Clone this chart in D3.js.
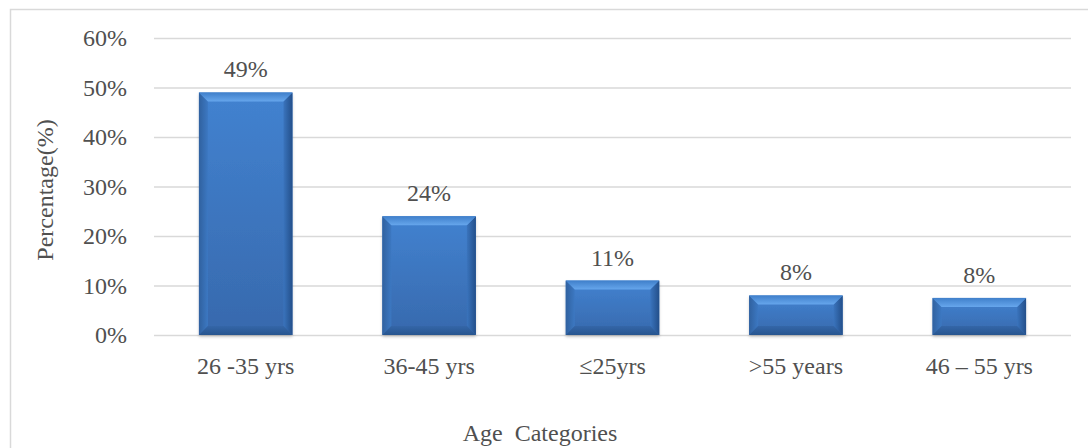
<!DOCTYPE html>
<html>
<head>
<meta charset="utf-8">
<script src="https://cdn.jsdelivr.net/npm/d3@7"></script>
<style>
  html, body { margin: 0; padding: 0; background: #fff; }
  svg text { font-family: "Liberation Serif", "Times New Roman", serif; fill: #505050; }
</style>
</head>
<body>
<svg id="chart" width="1088" height="448"></svg>
<script>
// Age distribution of respondents
const categories = ["26 -35 yrs", "36-45 yrs", "\u226425yrs", ">55 years", "46 \u2013 55 yrs"];
const values = [49, 24, 11, 8, 7.5];
const valueLabels = ["49%", "24%", "11%", "8%", "8%"];
const yTicks = [0, 10, 20, 30, 40, 50, 60];

const svg = d3.select("#chart");
const W = 1088, H = 448;
const plot = { left: 154, right: 1071, top: 38, bottom: 335 };
const FS = "24px";

// chart frame
svg.append("rect")
  .attr("x", 10.5).attr("y", 9.5)
  .attr("width", W + 20).attr("height", H + 20)
  .attr("fill", "none").attr("stroke", "#d9d9d9").attr("stroke-width", 1.5);

const x = d3.scaleBand().domain(categories).range([plot.left, plot.right]).paddingInner(0.49).paddingOuter(0.245);
const y = d3.scaleLinear().domain([0, 60]).range([plot.bottom, plot.top]);

// gradients for the bevelled bars
const defs = svg.append("defs");
const body = defs.append("linearGradient").attr("id", "barBody").attr("x1", 0).attr("y1", 0).attr("x2", 0).attr("y2", 1);
body.append("stop").attr("offset", "0%").attr("stop-color", "#4282d0");
body.append("stop").attr("offset", "100%").attr("stop-color", "#3769ad");
const topG = defs.append("linearGradient").attr("id", "bevTop").attr("x1", 0).attr("y1", 0).attr("x2", 0).attr("y2", 1);
topG.append("stop").attr("offset", "0%").attr("stop-color", "#3f7fca");
topG.append("stop").attr("offset", "100%").attr("stop-color", "#66a6ec");
const leftG = defs.append("linearGradient").attr("id", "bevLeft").attr("x1", 0).attr("y1", 0).attr("x2", 1).attr("y2", 0);
leftG.append("stop").attr("offset", "0%").attr("stop-color", "#30619f");
leftG.append("stop").attr("offset", "100%").attr("stop-color", "#3c78c2");
const rightG = defs.append("linearGradient").attr("id", "bevRight").attr("x1", 1).attr("y1", 0).attr("x2", 0).attr("y2", 0);
rightG.append("stop").attr("offset", "0%").attr("stop-color", "#234f8a");
rightG.append("stop").attr("offset", "100%").attr("stop-color", "#3a74bd");
const botG = defs.append("linearGradient").attr("id", "bevBot").attr("x1", 0).attr("y1", 1).attr("x2", 0).attr("y2", 0);
botG.append("stop").attr("offset", "0%").attr("stop-color", "#27558f");
botG.append("stop").attr("offset", "100%").attr("stop-color", "#3466a8");
const shadow = defs.append("filter").attr("id", "barShadow").attr("x", "-10%").attr("y", "-10%").attr("width", "120%").attr("height", "130%");
shadow.append("feDropShadow").attr("dx", 0).attr("dy", 2).attr("stdDeviation", 1.5).attr("flood-color", "#000").attr("flood-opacity", 0.2);

// gridlines and y-axis labels
const yAxis = d3.axisLeft(y).tickValues(yTicks).tickFormat(d => d + "%").tickSize(-(plot.right - plot.left)).tickPadding(27);
const gy = svg.append("g").attr("transform", `translate(${plot.left},0)`).call(yAxis);
gy.select(".domain").remove();
gy.selectAll(".tick line").attr("stroke", "#d9d9d9").attr("stroke-width", 1.5);
gy.selectAll(".tick text").style("font-size", FS).attr("fill", "#505050");

// bars
const bev = 9;
const bars = svg.append("g").selectAll("g").data(categories).join("g");
bars.each(function(c, i) {
  const g = d3.select(this);
  const x0 = x(c), bw = x.bandwidth();
  const y0 = y(values[i]), y1 = y(0);
  const h = y1 - y0;
  const b = Math.min(bev, h / 2.5);
  g.append("rect").attr("x", x0).attr("y", y0).attr("width", bw).attr("height", h)
    .attr("fill", "url(#barBody)").attr("filter", "url(#barShadow)");
  // bevelled edges
  g.append("path").attr("d", `M${x0},${y0}L${x0 + b},${y0 + b}L${x0 + b},${y1 - b}L${x0},${y1}Z`)
    .attr("fill", "url(#bevLeft)");
  g.append("path").attr("d", `M${x0 + bw},${y0}L${x0 + bw - b},${y0 + b}L${x0 + bw - b},${y1 - b}L${x0 + bw},${y1}Z`)
    .attr("fill", "url(#bevRight)");
  g.append("path").attr("d", `M${x0},${y1}L${x0 + b},${y1 - b}L${x0 + bw - b},${y1 - b}L${x0 + bw},${y1}Z`)
    .attr("fill", "url(#bevBot)");
  g.append("path").attr("d", `M${x0},${y0}L${x0 + bw},${y0}L${x0 + bw - b},${y0 + b}L${x0 + b},${y0 + b}Z`)
    .attr("fill", "url(#bevTop)");
  // value label
  g.append("text").attr("x", x0 + bw / 2).attr("y", y0 - 15)
    .attr("text-anchor", "middle").style("font-size", FS).text(valueLabels[i]);
});

// x-axis category labels
const xAxis = d3.axisBottom(x).tickSize(0).tickPadding(22);
const gx = svg.append("g").attr("transform", `translate(0,${plot.bottom})`).call(xAxis);
gx.select(".domain").remove();
gx.selectAll(".tick text").style("font-size", FS).attr("fill", "#505050");

// axis titles
svg.append("text").attr("x", 540).attr("y", 441).attr("text-anchor", "middle")
  .style("font-size", FS).style("white-space", "pre").text("Age  Categories");
svg.append("text").attr("transform", "translate(53,190) rotate(-90)").attr("text-anchor", "middle")
  .style("font-size", FS).text("Percentage(%)");
</script>
</body>
</html>
